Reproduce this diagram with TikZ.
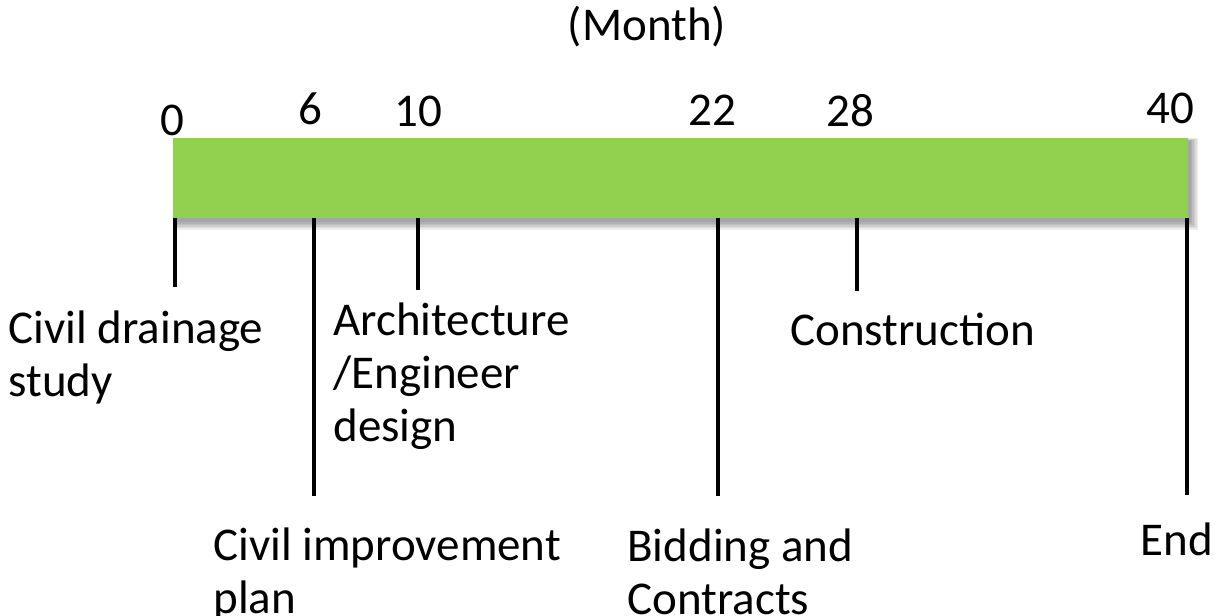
\documentclass[tikz,border=0pt]{standalone}
\usepackage{fontspec}
\setmainfont{Carlito}
\usetikzlibrary{positioning}
\definecolor{barGreen}{HTML}{92D050}
\tikzset{tickline/.style={line width=1.6pt},
  lbl/.style={anchor=north west, inner sep=0pt, align=left, font=\fontsize{23.5}{26.5}\selectfont},
  num/.style={inner sep=0pt, font=\fontsize{23.5}{26.5}\selectfont}}

\begin{document}
\begin{tikzpicture}[x=0.5pt,y=-0.5pt]
\useasboundingbox (0,0) rectangle (1216,616);
% soft shadow under the bar
\foreach \s in {0,...,5} {
\fill[black,opacity=0.07] (176-0.6*\s,141-0.6*\s) rectangle (1191+1.4*\s,222+1.6*\s);
}
\node (bar) [fill=barGreen, inner sep=0pt, minimum width=507.5pt, minimum height=40pt, anchor=north west] at (173,138) {};
% month marks
\foreach \n/\x/\y in {0/175/287, 6/314/496, 10/418/290, 22/718/496, 28/857/291, 40/1187/495} {
\coordinate (top\n) at (\x,218);
\coordinate (end\n) at (\x,\y);
\draw[tickline] (top\n) -- (end\n);
}
\node (month) [num, anchor=base] at (647,40) {(Month)};
\node (n0) [num] at (172,120) {0};
\node (n6) [num] at (310,109) {6};
\node (n10) [num] at (418,111) {10};
\node (n22) [num] at (712,110) {22};
\node (n28) [num] at (850,111) {28};
\node (n40) [num] at (1170,108) {40};
\node (drain) [lbl] at (8,310) {Civil drainage\\study};
\node (arch) [lbl] at (333,302) {Architecture\\/Engineer\\design};
\node (improve) [lbl] at (213,527) {Civil improvement\\plan};
\node (bid) [lbl] at (627,528) {Bidding and\\Contracts};
\node (constr) [lbl] at (790,313) {Construction};
\node (finish) [lbl] at (1140,522) {End};
\end{tikzpicture}
\end{document}
